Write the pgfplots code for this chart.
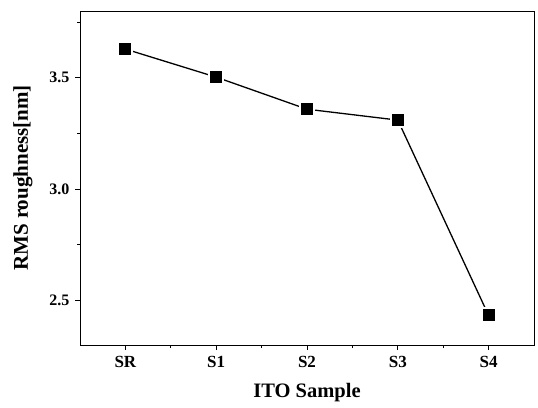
\documentclass[border=0pt]{standalone}
\usepackage{pgfplots}
\pgfplotsset{compat=1.18}
\usepackage{fontspec}
\setmainfont{Liberation Serif}
\begin{document}
\begin{tikzpicture}[x=1pt,y=1pt]
\begin{axis}[
  scale only axis,
  width=454pt, height=334pt,
  xmin=-0.5, xmax=4.5,
  ymin=2.3, ymax=3.8,
  xtick={0,1,2,3,4},
  xticklabels={SR,S1,S2,S3,S4},
  minor xtick={0.5,1.5,2.5,3.5},
  ytick={2.5,3.0,3.5},
  minor ytick={2.75,3.25,3.75},
  yticklabel style={/pgf/number format/fixed, /pgf/number format/fixed zerofill, /pgf/number format/precision=1},
  /pgf/number format/assume math mode=true,
  tick align=outside,
  major tick length=5pt,
  minor tick length=3pt,
  xtick pos=bottom, ytick pos=left,
  tick style={black, line width=0.8pt},
  axis line style={line width=0.8pt},
  xticklabel style={font=\fontsize{17}{17}\selectfont\bfseries, yshift=-3pt},
  yticklabel style={font=\fontsize{16}{16}\selectfont\bfseries, xshift=-2pt},
  xlabel={ITO Sample},
  ylabel={RMS roughness[nm]},
  xlabel style={font=\fontsize{20.5}{20.5}\selectfont\bfseries, yshift=-8pt},
  ylabel style={font=\fontsize{21}{21}\selectfont\bfseries, yshift=10pt},
]
\addplot[black, line width=1.3pt, mark=square*, mark size=7pt,
  mark options={fill=black, draw=white, line width=2pt}]
  coordinates {(0,3.629) (1,3.503) (2,3.359) (3,3.310) (4,2.433)};
\end{axis}
\pgfresetboundingbox
\path (current axis.south west) ++(-80pt,-62pt) coordinate (bl);
\path (current axis.north east) ++(4pt,11pt) coordinate (tr);
\path[use as bounding box] (bl) rectangle (tr);
\end{tikzpicture}
\end{document}
